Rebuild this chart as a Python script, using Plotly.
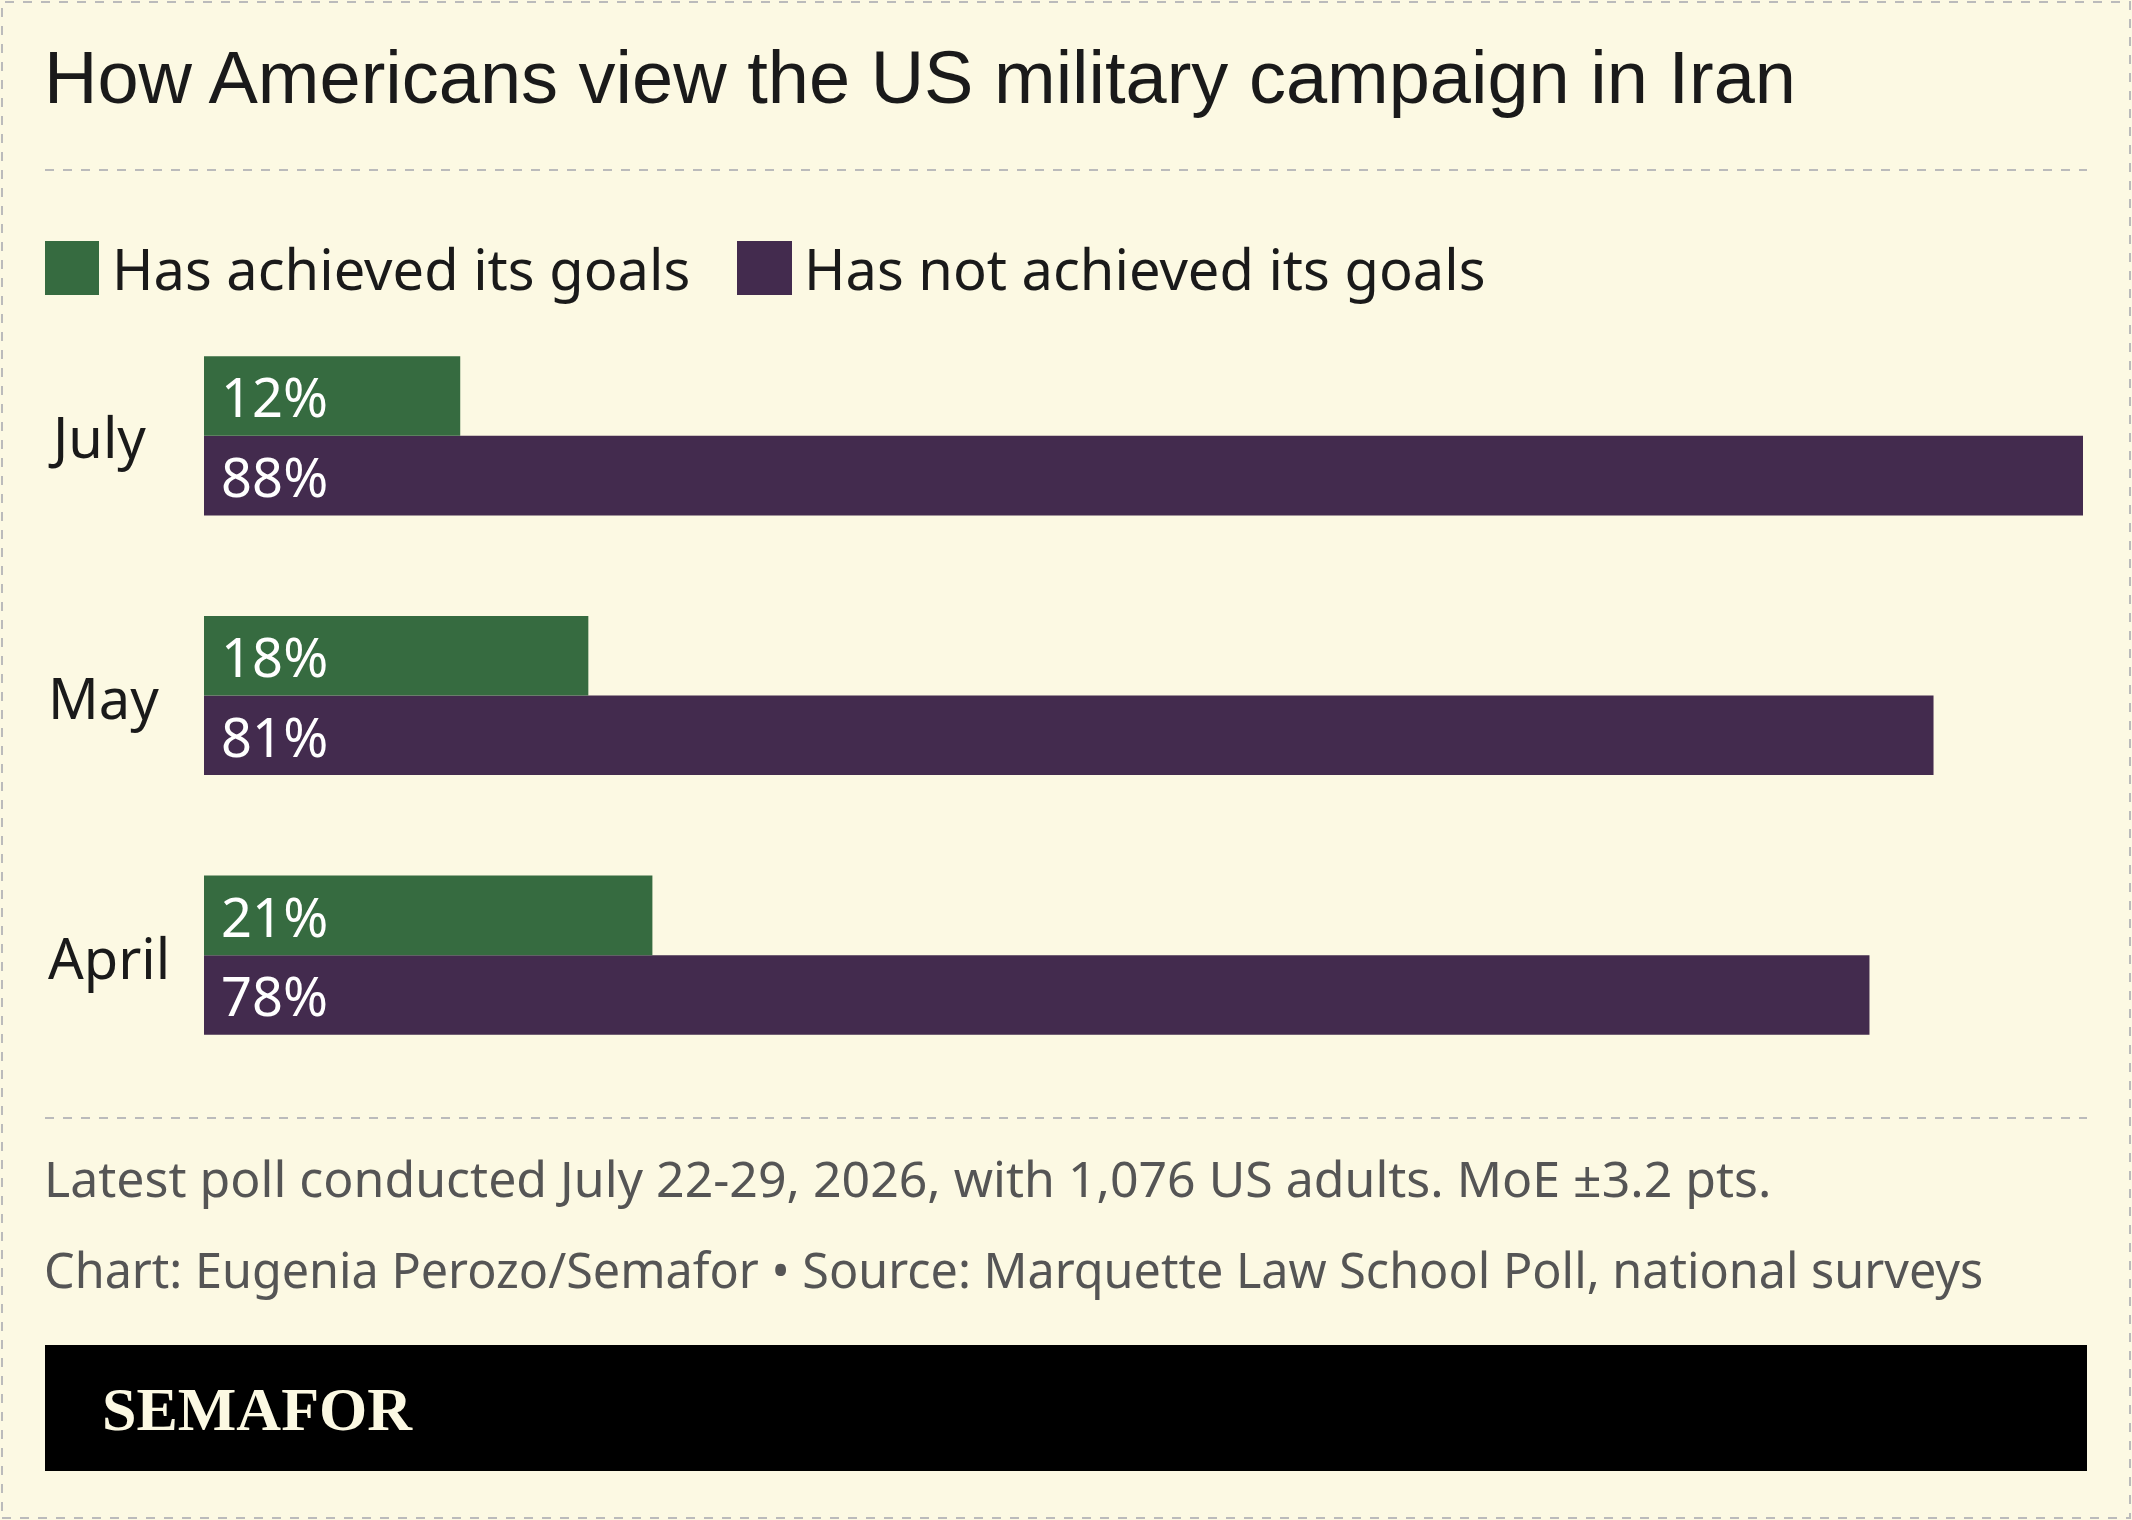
import plotly.graph_objects as go

months = ["April", "May", "July"]
achieved = [21, 18, 12]
not_achieved = [78, 81, 88]
series_names = ["Has achieved its goals", "Has not achieved its goals"]
colors = ["#366B40", "#432B4E"]
W, H = 2132, 1520
BG = "#FCF9E3"

fig = go.Figure()
fig.add_bar(y=months, x=not_achieved, orientation="h", marker_color=colors[1], name=series_names[1])
fig.add_bar(y=months, x=achieved, orientation="h", marker_color=colors[0], name=series_names[0])
fig.update_traces(texttemplate="\u00a0%{x}%", textposition="inside", insidetextanchor="start",
                  textfont=dict(color="white", size=56, family="Noto Sans"),
                  marker_line_width=0, hoverinfo="skip")

def px(x): return x / W
def py(y): return 1 - y / H

fig.update_layout(
    width=W, height=H, margin=dict(l=0, r=0, t=0, b=0),
    paper_bgcolor=BG, plot_bgcolor=BG, showlegend=False,
    barmode="group", bargap=0.387, bargroupgap=0,
    xaxis=dict(domain=[px(204), px(2083)], range=[0, 88], visible=False, fixedrange=True),
    yaxis=dict(domain=[py(1085), py(306)], range=[-0.5, 2.5], visible=False),
    font=dict(family="Noto Sans"),
)

shapes = [
    dict(type="rect", xref="paper", yref="paper", x0=px(2), x1=px(W-2), y0=py(H-2), y1=py(2),
         line=dict(color="#BBBBBB", width=2, dash="dash"), fillcolor="rgba(0,0,0,0)"),
    dict(type="line", xref="paper", yref="paper", x0=px(45), x1=px(2087), y0=py(170), y1=py(170),
         line=dict(color="#BBBBBB", width=2, dash="dash")),
    dict(type="line", xref="paper", yref="paper", x0=px(45), x1=px(2087), y0=py(1118), y1=py(1118),
         line=dict(color="#BBBBBB", width=2, dash="dash")),
    dict(type="rect", xref="paper", yref="paper", x0=px(45), x1=px(2087), y0=py(1471), y1=py(1345),
         fillcolor="black", line_width=0),
    dict(type="rect", xref="paper", yref="paper", x0=px(45), x1=px(99), y0=py(295), y1=py(241),
         fillcolor=colors[0], line_width=0),
    dict(type="rect", xref="paper", yref="paper", x0=px(737), x1=px(792), y0=py(295), y1=py(241),
         fillcolor=colors[1], line_width=0),
]
fig.update_layout(shapes=shapes)

def ann(text, x, y, size, color="#1a1a1a", family="Noto Sans", **kw):
    fig.add_annotation(text=text, x=px(x), y=py(y), xref="paper", yref="paper",
                       xanchor="left", yanchor="middle", showarrow=False,
                       font=dict(size=size, color=color, family=family), **kw)

ann("How Americans view the US military campaign in Iran", 42, 78, 74, family="Liberation Sans")
ann(series_names[0], 110, 268, 56)
ann(series_names[1], 802, 268, 56)
for m, y in zip(["July", "May", "April"], [436, 697, 957]):
    ann(m, 46, y, 56)
ann("Latest poll conducted July 22-29, 2026, with 1,076 US adults. MoE ±3.2 pts.", 42, 1178, 50, color="#555555")
ann("Chart: Eugenia Perozo/Semafor • Source: Marquette Law School Poll, national surveys", 42, 1269, 48.5, color="#555555")
ann("<b>SEMAFOR</b>", 100, 1409, 62, color=BG, family="Liberation Serif")

fig.write_html("out.html", config={"displayModeBar": False})
with open("out.html", encoding="utf-8") as f:
    html = f.read()
html = html.replace("<body>", '<body style="margin:0;padding:0;">', 1)
with open("out.html", "w", encoding="utf-8") as f:
    f.write(html)
